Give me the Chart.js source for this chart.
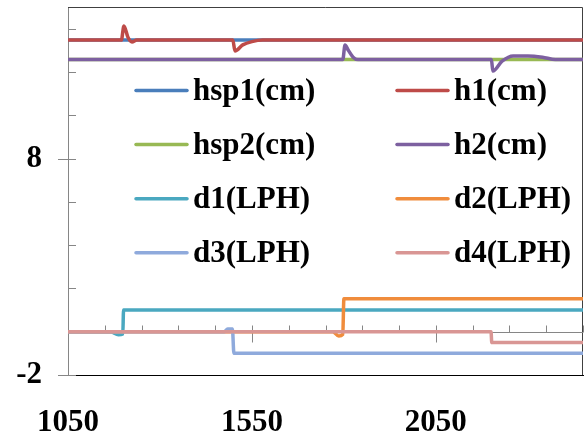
<!DOCTYPE html>
<html>
<head>
<meta charset="utf-8">
<script src="https://cdn.jsdelivr.net/npm/chart.js@4/dist/chart.umd.min.js"></script>
<style>
  html, body { margin: 0; padding: 0; background: #fff; }
  #wrap { width: 584px; height: 439px; }
</style>
</head>
<body>
<div id="wrap"><canvas id="chart"></canvas></div>
<script>
// series labels and colours
const seriesNames = ['hsp1(cm)', 'h1(cm)', 'hsp2(cm)', 'h2(cm)', 'd1(LPH)', 'd2(LPH)', 'd3(LPH)', 'd4(LPH)'];
const seriesColors = ['#4a7ebb', '#be4b48', '#98b954', '#7d60a0', '#4aa8c0', '#f08c3c', '#8faadc', '#d99694'];

// time (x) and value (y) pairs
const hsp1X = [1050, 2450];
const hsp1Y = [13.47, 13.47];
const h1X = [1050, 1195, 1202, 1213, 1224, 1237, 1498, 1504, 1525, 1550, 1580, 2450];
const h1Y = [13.47, 13.47, 14.12, 13.6, 13.38, 13.47, 13.47, 12.97, 13.25, 13.4, 13.47, 13.47];
const hsp2X = [1050, 2450];
const hsp2Y = [12.57, 12.57];
const h2X = [1050, 1797, 1803, 1812, 1825, 1838, 2201, 2205, 2230, 2260, 2300, 2340, 2375, 2450];
const h2Y = [12.57, 12.57, 13.24, 13.0, 12.68, 12.57, 12.57, 12.04, 12.5, 12.74, 12.74, 12.68, 12.57, 12.57];
const d1X = [1050, 1165, 1187, 1199, 1201, 2450];
const d1Y = [0, 0, -0.14, -0.1, 1.0, 1.0];
const d2X = [1050, 1770, 1786, 1797, 1800, 2450];
const d2Y = [0, 0, -0.2, -0.12, 1.52, 1.52];
const d3X = [1050, 1475, 1484, 1497, 1501, 2450];
const d3Y = [0, 0, 0.13, 0.12, -1.0, -1.0];
const d4X = [1050, 2200, 2202, 2450];
const d4Y = [0, 0, -0.5, -0.5];

const seriesX = [hsp1X, h1X, hsp2X, h2X, d1X, d2X, d3X, d4X];
const seriesY = [hsp1Y, h1Y, hsp2Y, h2Y, d1Y, d2Y, d3Y, d4Y];

// axes
const xLabels = [1050, 1550, 2050];
const yLabels = [-2, 8];
const xMin = 1050, xMax = 2450, xMinor = 100;
const yMin = -2, yMax = 15, yMinor = 2;

const font = { family: "'Liberation Serif', 'Times New Roman', serif", size: 31, weight: 'bold' };

const datasets = seriesNames.map((name, i) => ({
  label: name,
  data: seriesX[i].map((x, j) => ({ x: x, y: seriesY[i][j] })),
  borderColor: seriesColors[i],
  backgroundColor: seriesColors[i],
  borderWidth: 3.5,
  pointRadius: 0,
  cubicInterpolationMode: 'monotone',
  order: seriesNames.length - i,   // later series on top, like the original
}));

// frame, axis at zero and the tick marks
const axisMarks = {
  id: 'axisMarks',
  beforeDatasetsDraw(chart) {
    const { ctx, chartArea: a, scales: { x, y } } = chart;
    ctx.save();
    ctx.lineWidth = 1;
    ctx.strokeStyle = '#404040';
    ctx.beginPath();
    ctx.moveTo(a.left, a.top + 0.5);
    ctx.lineTo(a.right - 0.5, a.top + 0.5);
    ctx.lineTo(a.right - 0.5, a.bottom);
    ctx.stroke();

    ctx.strokeStyle = '#868686';
    const y0 = Math.round(y.getPixelForValue(0)) + 0.5;
    ctx.beginPath();
    ctx.moveTo(a.left, y0);
    ctx.lineTo(a.right, y0);
    for (let v = xMin + xMinor; v <= xMax + 0.01; v += xMinor) {
      const px = Math.round(x.getPixelForValue(v)) + 0.5;
      const major = xLabels.includes(v);
      ctx.moveTo(px, y0 - 7);
      ctx.lineTo(px, major ? y0 + 10 : y0);
    }
    for (let v = yMin; v <= yMax; v += yMinor) {
      const py = Math.round(y.getPixelForValue(v)) + 0.5;
      const major = yLabels.includes(v);
      ctx.moveTo(major ? a.left - 10 : a.left, py);
      ctx.lineTo(a.left + 8, py);
    }
    ctx.stroke();
    ctx.restore();
  }
};

// two-column legend inside the plot
const insideLegend = {
  id: 'insideLegend',
  afterDraw(chart) {
    const ctx = chart.ctx;
    ctx.save();
    ctx.font = 'bold 31px ' + font.family;
    ctx.textBaseline = 'middle';
    ctx.fillStyle = '#000';
    chart.data.datasets.forEach((ds, i) => {
      const col = i % 2, row = Math.floor(i / 2);
      const lx = col === 0 ? 135 : 396;
      const ly = 90.5 + row * 54.1;
      ctx.strokeStyle = ds.borderColor;
      ctx.lineWidth = 3.5;
      ctx.lineCap = 'round';
      ctx.beginPath();
      ctx.moveTo(lx + 1, ly);
      ctx.lineTo(lx + 52, ly);
      ctx.stroke();
      ctx.fillText(ds.label, lx + 58, ly + 1.5);
    });
    ctx.restore();
  }
};

new Chart(document.getElementById('chart'), {
  type: 'line',
  data: { datasets: datasets },
  options: {
    responsive: true,
    maintainAspectRatio: false,
    animation: false,
    layout: { padding: { top: 7, right: 1, left: 0, bottom: 0 } },
    plugins: { legend: { display: false }, tooltip: { enabled: false } },
    scales: {
      x: {
        type: 'linear',
        min: xMin,
        max: xMax,
        afterBuildTicks: (scale) => { scale.ticks = xLabels.map(v => ({ value: v })); },
        afterFit: (scale) => { scale.height = 64; scale.paddingLeft = 0; scale.paddingRight = 0; },
        grid: { display: false, drawTicks: false },
        border: { display: true, color: '#000', width: 1 },
        ticks: { font: font, color: '#000', padding: 29, autoSkip: false, maxRotation: 0, callback: (v) => String(v) },
      },
      y: {
        type: 'linear',
        min: yMin,
        max: yMax,
        afterBuildTicks: (scale) => { scale.ticks = yLabels.map(v => ({ value: v })); },
        afterFit: (scale) => { scale.width = 68; scale.paddingTop = 0; scale.paddingBottom = 0; },
        grid: { display: false, drawTicks: false },
        border: { display: true, color: '#868686', width: 1 },
        ticks: { font: font, color: '#000', padding: 26, callback: (v) => String(v) },
      },
    },
  },
  plugins: [axisMarks, insideLegend],
});
</script>
</body>
</html>
